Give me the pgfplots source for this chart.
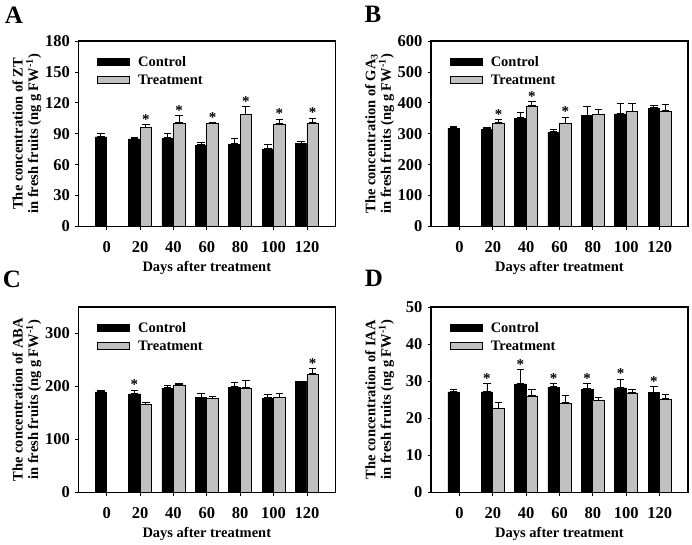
\documentclass[border=0pt]{standalone}
\usepackage{pgfplots}
\usepackage{pgfplotstable}
\pgfplotsset{compat=1.18}
\usetikzlibrary{arrows.meta}
\usepackage{fontspec}
\setmainfont{Liberation Serif}
\definecolor{barfill}{RGB}{192,192,192}

\newcommand{\tickfont}{\bfseries\fontsize{16.5}{16.5}\selectfont}
\newcommand{\labfont}{\bfseries\fontsize{14.5}{15.5}\selectfont}
\newcommand{\legfont}{\bfseries\fontsize{14.5}{15}\selectfont}
\newcommand{\starfont}{\bfseries\fontsize{15}{15}\selectfont}

% x: position, c: control, ce: control error, cs: control star, t: treatment ...
\pgfplotstableread{
x c ce cs t te ts
0 87 4 {} nan nan {}
1 85 2 {} 96 3 *
2 85.5 5 {} 100 8 *
3 79 3 {} 100 1.2 *
4 80 5.5 {} 108.5 8 *
5 75 5 {} 99.5 5 *
6 80.5 2 {} 100.5 5 *
}\dataA
\pgfplotstableread{
x c ce cs t te ts
0 318 8 {} nan nan {}
1 315 6 {} 335 13 *
2 350 20 {} 390 16 *
3 305 9 {} 333 22 *
4 359 32 {} 361 20 {}
5 364 34 {} 371 28 {}
6 383 11 {} 372 25 {}
}\dataB
\pgfplotstableread{
x c ce cs t te ts
0 190 4 {} nan nan {}
1 186 8 * 166 5 {}
2 197 6 {} 203 4.5 {}
3 179 9 {} 177 5 {}
4 199 9 {} 197 14.5 {}
5 178 8 {} 179 8 {}
6 209 2 {} 223 11 *
}\dataC
\pgfplotstableread{
x c ce cs t te ts
0 27.1 0.7 {} nan nan {}
1 27.1 2.4 * 22.6 1.7 {}
2 29.3 4 * 26 2 {}
3 28.4 1.1 * 24.1 2.3 {}
4 27.9 1.6 * 24.8 1 {}
5 28.2 2.5 * 26.7 1.2 {}
6 26.9 1.7 * 25.1 1.4 {}
}\dataD

\pgfplotsset{
  panel/.style={
    scale only axis, width=257pt, height=185.5pt,
    xmin=-0.85, xmax=6.85, ymin=0,
    xtick={0,...,6}, xticklabels={0,20,40,60,80,100,120},
    tick align=outside, major tick length=3pt,
    xtick pos=bottom, ytick pos=left,
    axis line style={line width=1.1pt},
    every tick/.style={black, line width=0.8pt},
    /pgf/number format/assume math mode=true,
    ticklabel style={font=\tickfont},
    xticklabel style={yshift=-8pt},
    yticklabel style={xshift=-2pt},
    xlabel={Days after treatment},
    every axis x label/.style={at={(axis description cs:0.5,-0.222)}, anchor=center, font=\labfont},
    every axis y label/.style={at={(axis description cs:-0.2,0.5)}, anchor=center, rotate=90, align=center, font=\labfont},
    legend style={draw=none, fill=none, at={(axis description cs:0.073,0.93)}, anchor=north west,
      font=\legfont, row sep=3pt, inner sep=0pt},
    legend cell align=left,
    legend image code/.code={\draw[#1, line width=0.8pt] (0pt,-3.5pt) rectangle (32pt,3.5pt); \path (38pt,0pt);},
  },
  errstyle/.style={
    error bars/y dir=plus, error bars/y explicit,
    error bars/error mark=none,
    error bars/error bar style={line width=0.9pt, black, solid,
      {Bar[width=7.5pt, line width=1pt]}-{Bar[width=7.5pt, line width=1pt]}}},
  ctrl/.style={ybar, bar width=0.345, bar shift=0pt, fill=black, draw=black, line width=0.6pt, errstyle},
  treat/.style={ybar, bar width=0.345, bar shift=0pt, fill=barfill, draw=black, line width=0.8pt, errstyle},
  stars/.style={nodes near coords, point meta=explicit symbolic,
    visualization depends on={#1 \as \errval},
    every node near coord/.append style={shift={(axis direction cs:0,\errval)}, anchor=south, inner sep=0pt, yshift=-0.5pt, font=\starfont, black}},
}

\begin{document}
\begin{tikzpicture}
\useasboundingbox (0,0) rectangle (692pt,-544pt);

\node[font=\bfseries\fontsize{25}{25}\selectfont] at (14pt,-15pt) {A};
\node[font=\bfseries\fontsize{25}{25}\selectfont] at (373pt,-14pt) {B};
\node[font=\bfseries\fontsize{25}{25}\selectfont] at (12pt,-279pt) {C};
\node[font=\bfseries\fontsize{25}{25}\selectfont] at (374pt,-278pt) {D};

% Panel A
\begin{axis}[panel, at={(78.3pt,-226.5pt)}, anchor=south west,
  ymax=180, ytick={0,30,...,180},
  ylabel={The concentration of ZT\\in fresh fruits (ng g FW\textsuperscript{-1})}]
\addplot[ctrl, stars=\thisrow{ce}] table[x expr=\thisrow{x}-0.1725, y=c, y error=ce, meta=cs] {\dataA};
\addlegendentry{Control}
\addplot[treat, stars=\thisrow{te}] table[x expr=\thisrow{x}+0.1725, y=t, y error=te, meta=ts] {\dataA};
\addlegendentry{Treatment}
\end{axis}

% Panel B
\begin{axis}[panel, at={(431pt,-226.5pt)}, anchor=south west,
  ymax=600, ytick={0,100,...,600},
  ylabel={The concentration of GA\textsubscript{3}\\in fresh fruits (ng g FW\textsuperscript{-1})}]
\addplot[ctrl, stars=\thisrow{ce}] table[x expr=\thisrow{x}-0.1725, y=c, y error=ce, meta=cs] {\dataB};
\addlegendentry{Control}
\addplot[treat, stars=\thisrow{te}] table[x expr=\thisrow{x}+0.1725, y=t, y error=te, meta=ts] {\dataB};
\addlegendentry{Treatment}
\end{axis}

% Panel C
\begin{axis}[panel, at={(78.3pt,-492.5pt)}, anchor=south west,
  ymax=350, ytick={0,100,200,300},
  ylabel={The concentration of ABA\\in fresh fruits (ng g FW\textsuperscript{-1})}]
\addplot[ctrl, stars=\thisrow{ce}] table[x expr=\thisrow{x}-0.1725, y=c, y error=ce, meta=cs] {\dataC};
\addlegendentry{Control}
\addplot[treat, stars=\thisrow{te}] table[x expr=\thisrow{x}+0.1725, y=t, y error=te, meta=ts] {\dataC};
\addlegendentry{Treatment}
\end{axis}

% Panel D
\begin{axis}[panel, at={(431pt,-492.5pt)}, anchor=south west,
  ymax=50, ytick={0,10,...,50},
  ylabel={The concentration of IAA\\in fresh fruits (ng g FW\textsuperscript{-1})}]
\addplot[ctrl, stars=\thisrow{ce}] table[x expr=\thisrow{x}-0.1725, y=c, y error=ce, meta=cs] {\dataD};
\addlegendentry{Control}
\addplot[treat, stars=\thisrow{te}] table[x expr=\thisrow{x}+0.1725, y=t, y error=te, meta=ts] {\dataD};
\addlegendentry{Treatment}
\end{axis}
\end{tikzpicture}
\end{document}
